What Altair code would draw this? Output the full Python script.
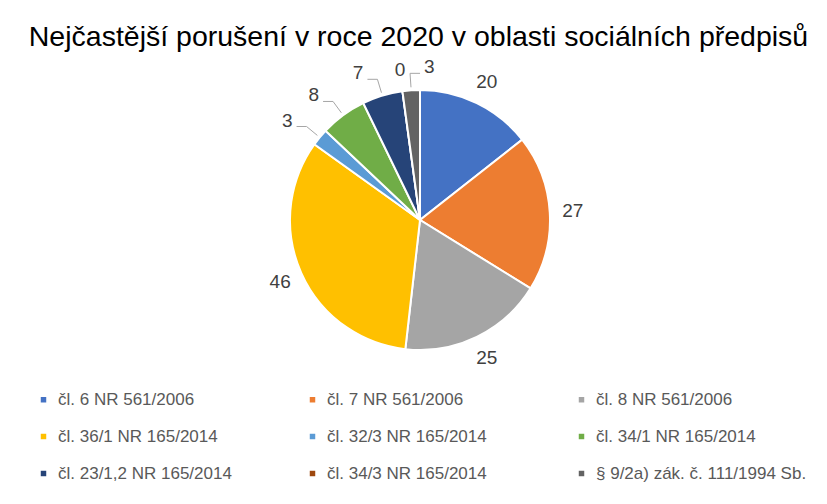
import altair as alt
import pandas as pd

categories = [
    "čl. 6 NR 561/2006",
    "čl. 7 NR 561/2006",
    "čl. 8 NR 561/2006",
    "čl. 36/1 NR 165/2014",
    "čl. 32/3 NR 165/2014",
    "čl. 34/1 NR 165/2014",
    "čl. 23/1,2 NR 165/2014",
    "čl. 34/3 NR 165/2014",
    "§ 9/2a) zák. č. 111/1994 Sb.",
]
values = [20, 27, 25, 46, 3, 8, 7, 0, 3]
colors = ["#4472C4", "#ED7D31", "#A5A5A5", "#FFC000", "#5B9BD5",
          "#70AD47", "#264478", "#9E480E", "#636363"]
title_text = "Nejčastější porušení v roce 2020 v oblasti sociálních předpisů"

df = pd.DataFrame({"cat": categories, "value": values, "idx": list(range(len(values)))})

FONT = "Liberation Sans"
CX, CY, R = 412, 163, 130
R_LABEL = 153
R_IN, R_ELBOW, H_LEN = 133, 147, 10

base = (
    alt.Chart(df)
    .transform_joinaggregate(total="sum(value)")
    .transform_window(cum="sum(value)", sort=[alt.SortField("idx")], frame=[None, 0])
    .transform_calculate(a="(datum.cum - datum.value / 2) / datum.total * 2 * PI")
    .transform_calculate(
        side="sin(datum.a) > -0.1 ? 1 : -1",
        lx=f"{CX} + {R_LABEL} * sin(datum.a)",
        ly=f"{CY} - {R_LABEL} * cos(datum.a)",
        x1=f"{CX} + {R_IN} * sin(datum.a)",
        y1=f"{CY} - {R_IN} * cos(datum.a)",
        xe=f"{CX} + {R_ELBOW} * sin(datum.a)",
        ye=f"{CY} - {R_ELBOW} * cos(datum.a)",
    )
    .transform_calculate(
        xh=f"datum.xe + datum.side * {H_LEN}",
        xt=f"datum.xe + datum.side * {H_LEN + 4}",
    )
)

legend = alt.Legend(
    title=None,
    orient="none",
    legendX=27,
    legendY=334,
    direction="horizontal",
    columns=3,
    gridAlign="all",
    columnPadding=35,
    rowPadding=19,
    symbolType="square",
    symbolSize=30,
    symbolStrokeWidth=0,
    labelFont=FONT,
    labelFontSize=17,
    labelColor="#595959",
    labelLimit=400,
    labelOffset=6,
)

arcs = alt.Chart(df).mark_arc(outerRadius=R, stroke="white", strokeWidth=2).encode(
    theta=alt.Theta("value:Q", stack=True),
    color=alt.Color("cat:N", scale=alt.Scale(domain=categories, range=colors), legend=legend, sort=None),
    order=alt.Order("idx:Q"),
    x=alt.value(CX),
    y=alt.value(CY),
)

big_labels = base.transform_filter("datum.value >= 10").mark_text(
    font=FONT, fontSize=19, color="#404040", baseline="middle", align="center"
).encode(
    x=alt.X("lx:Q", scale=None, axis=None),
    y=alt.Y("ly:Q", scale=None, axis=None),
    text="value:Q",
)

lead1 = base.transform_filter("datum.value > 0 && datum.value < 10").mark_rule(
    color="#A6A6A6", strokeWidth=1
).encode(
    x=alt.X("x1:Q", scale=None, axis=None),
    y=alt.Y("y1:Q", scale=None, axis=None),
    x2="xe:Q",
    y2="ye:Q",
)

lead2 = base.transform_filter("datum.value > 0 && datum.value < 10").mark_rule(
    color="#A6A6A6", strokeWidth=1
).encode(
    x=alt.X("xe:Q", scale=None, axis=None),
    y=alt.Y("ye:Q", scale=None, axis=None),
    x2="xh:Q",
    y2="ye:Q",
)

small_left = base.transform_filter("datum.value > 0 && datum.value < 10 && datum.side < 0").mark_text(
    font=FONT, fontSize=19, color="#404040", baseline="middle", align="right", dy=-6
).encode(
    x=alt.X("xt:Q", scale=None, axis=None),
    y=alt.Y("ye:Q", scale=None, axis=None),
    text="value:Q",
)

small_right = base.transform_filter("datum.value > 0 && datum.value < 10 && datum.side > 0").mark_text(
    font=FONT, fontSize=19, color="#404040", baseline="middle", align="left", dy=-6
).encode(
    x=alt.X("xt:Q", scale=None, axis=None),
    y=alt.Y("ye:Q", scale=None, axis=None),
    text="value:Q",
)

zero_labels = base.transform_filter("datum.value == 0").mark_text(
    font=FONT, fontSize=19, color="#404040", baseline="middle", align="center", dy=-4
).encode(
    x=alt.X("xe:Q", scale=None, axis=None),
    y=alt.Y("ye:Q", scale=None, axis=None),
    text="value:Q",
)

chart = (
    alt.layer(arcs, big_labels, lead1, lead2, small_left, small_right, zero_labels)
    .properties(
        width=811,
        height=440,
        padding={"left": 0, "top": 14, "right": 0, "bottom": 0},
        title=alt.TitleParams(
            title_text, font=FONT, fontSize=28.5, fontWeight="normal",
            color="#000000", anchor="middle", offset=6, dx=5,
        ),
        background="white",
    )
    .configure_view(stroke=None)
)

chart.save("out.html", embed_options={"renderer": "svg", "actions": False})
